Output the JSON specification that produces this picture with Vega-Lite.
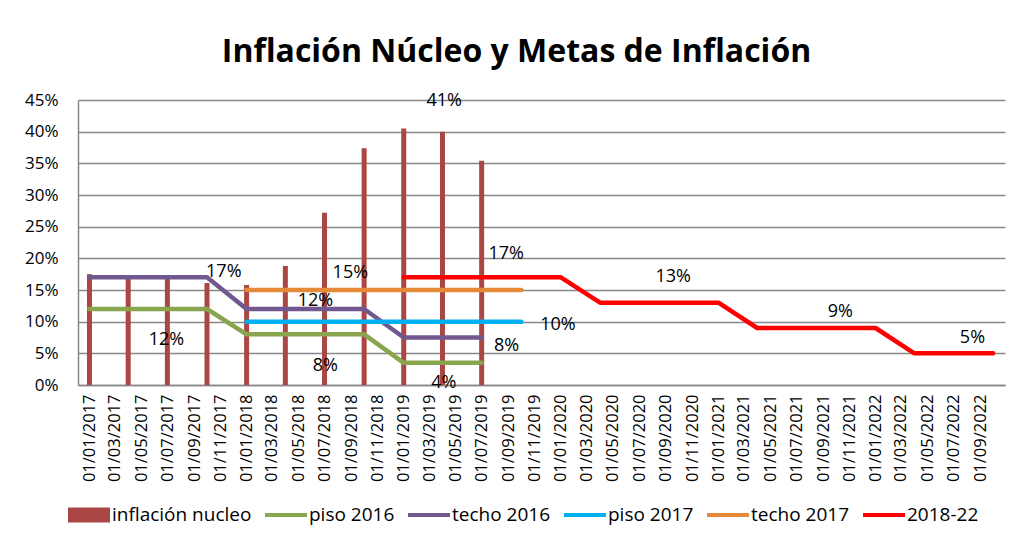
{
  "$schema": "https://vega.github.io/schema/vega-lite/v6.json",
  "autosize": "none",
  "width": 927,
  "height": 285,
  "padding": {"left": 78, "top": 100, "right": 11, "bottom": 157},
  "background": "white",
  "config": {
    "view": {"stroke": null},
    "font": "Open Sans"
  },
  "title": {
    "text": "Inflación Núcleo y Metas de Inflación",
    "font": "Open Sans",
    "fontSize": 32,
    "fontWeight": "bold",
    "color": "black",
    "anchor": "middle",
    "frame": "group",
    "baseline": "alphabetic",
    "dx": -25,
    "offset": -3
  },
  "datasets": {
    "bars": [
      {"date": "2017-01-01", "value": 17.5, "series": "inflación nucleo"},
      {"date": "2017-04-01", "value": 16.9, "series": "inflación nucleo"},
      {"date": "2017-07-01", "value": 16.9, "series": "inflación nucleo"},
      {"date": "2017-10-01", "value": 16.1, "series": "inflación nucleo"},
      {"date": "2018-01-01", "value": 15.8, "series": "inflación nucleo"},
      {"date": "2018-04-01", "value": 18.8, "series": "inflación nucleo"},
      {"date": "2018-07-01", "value": 27.2, "series": "inflación nucleo"},
      {"date": "2018-10-01", "value": 37.4, "series": "inflación nucleo"},
      {"date": "2019-01-01", "value": 40.5, "series": "inflación nucleo"},
      {"date": "2019-04-01", "value": 40.0, "series": "inflación nucleo"},
      {"date": "2019-07-01", "value": 35.4, "series": "inflación nucleo"}
    ],
    "lines": [
      {"date": "2017-01-01", "value": 12, "series": "piso 2016"},
      {"date": "2017-04-01", "value": 12, "series": "piso 2016"},
      {"date": "2017-07-01", "value": 12, "series": "piso 2016"},
      {"date": "2017-10-01", "value": 12, "series": "piso 2016"},
      {"date": "2018-01-01", "value": 8, "series": "piso 2016"},
      {"date": "2018-04-01", "value": 8, "series": "piso 2016"},
      {"date": "2018-07-01", "value": 8, "series": "piso 2016"},
      {"date": "2018-10-01", "value": 8, "series": "piso 2016"},
      {"date": "2019-01-01", "value": 3.5, "series": "piso 2016"},
      {"date": "2019-04-01", "value": 3.5, "series": "piso 2016"},
      {"date": "2019-07-01", "value": 3.5, "series": "piso 2016"},
      {"date": "2017-01-01", "value": 17, "series": "techo 2016"},
      {"date": "2017-04-01", "value": 17, "series": "techo 2016"},
      {"date": "2017-07-01", "value": 17, "series": "techo 2016"},
      {"date": "2017-10-01", "value": 17, "series": "techo 2016"},
      {"date": "2018-01-01", "value": 12, "series": "techo 2016"},
      {"date": "2018-04-01", "value": 12, "series": "techo 2016"},
      {"date": "2018-07-01", "value": 12, "series": "techo 2016"},
      {"date": "2018-10-01", "value": 12, "series": "techo 2016"},
      {"date": "2019-01-01", "value": 7.5, "series": "techo 2016"},
      {"date": "2019-04-01", "value": 7.5, "series": "techo 2016"},
      {"date": "2019-07-01", "value": 7.5, "series": "techo 2016"},
      {"date": "2018-01-01", "value": 10, "series": "piso 2017"},
      {"date": "2018-04-01", "value": 10, "series": "piso 2017"},
      {"date": "2018-07-01", "value": 10, "series": "piso 2017"},
      {"date": "2018-10-01", "value": 10, "series": "piso 2017"},
      {"date": "2019-01-01", "value": 10, "series": "piso 2017"},
      {"date": "2019-04-01", "value": 10, "series": "piso 2017"},
      {"date": "2019-07-01", "value": 10, "series": "piso 2017"},
      {"date": "2019-10-01", "value": 10, "series": "piso 2017"},
      {"date": "2018-01-01", "value": 15, "series": "techo 2017"},
      {"date": "2018-04-01", "value": 15, "series": "techo 2017"},
      {"date": "2018-07-01", "value": 15, "series": "techo 2017"},
      {"date": "2018-10-01", "value": 15, "series": "techo 2017"},
      {"date": "2019-01-01", "value": 15, "series": "techo 2017"},
      {"date": "2019-04-01", "value": 15, "series": "techo 2017"},
      {"date": "2019-07-01", "value": 15, "series": "techo 2017"},
      {"date": "2019-10-01", "value": 15, "series": "techo 2017"},
      {"date": "2019-01-01", "value": 17, "series": "2018-22"},
      {"date": "2019-04-01", "value": 17, "series": "2018-22"},
      {"date": "2019-07-01", "value": 17, "series": "2018-22"},
      {"date": "2019-10-01", "value": 17, "series": "2018-22"},
      {"date": "2020-01-01", "value": 17, "series": "2018-22"},
      {"date": "2020-04-01", "value": 13, "series": "2018-22"},
      {"date": "2020-07-01", "value": 13, "series": "2018-22"},
      {"date": "2020-10-01", "value": 13, "series": "2018-22"},
      {"date": "2021-01-01", "value": 13, "series": "2018-22"},
      {"date": "2021-04-01", "value": 9, "series": "2018-22"},
      {"date": "2021-07-01", "value": 9, "series": "2018-22"},
      {"date": "2021-10-01", "value": 9, "series": "2018-22"},
      {"date": "2022-01-01", "value": 9, "series": "2018-22"},
      {"date": "2022-04-01", "value": 5, "series": "2018-22"},
      {"date": "2022-07-01", "value": 5, "series": "2018-22"},
      {"date": "2022-10-01", "value": 5, "series": "2018-22"}
    ],
    "labels": [
      {"date": "2017-11-09", "value": 17.9, "label": "17%"},
      {"date": "2017-06-29", "value": 7.1, "label": "12%"},
      {"date": "2018-08-30", "value": 17.7, "label": "15%"},
      {"date": "2018-06-10", "value": 13.2, "label": "12%"},
      {"date": "2018-07-03", "value": 3.0, "label": "8%"},
      {"date": "2019-04-05", "value": 44.9, "label": "41%"},
      {"date": "2019-04-04", "value": 0.3, "label": "4%"},
      {"date": "2019-08-27", "value": 20.7, "label": "17%"},
      {"date": "2019-08-28", "value": 6.2, "label": "8%"},
      {"date": "2019-12-25", "value": 9.4, "label": "10%"},
      {"date": "2020-09-18", "value": 17.0, "label": "13%"},
      {"date": "2021-10-11", "value": 11.5, "label": "9%"},
      {"date": "2022-08-14", "value": 7.5, "label": "5%"}
    ]
  },
  "encoding": {
    "x": {
      "field": "date",
      "type": "temporal",
      "scale": {
        "type": "utc",
        "domain": [
          {"year": 2016, "month": 12, "date": 17, "utc": true},
          {"year": 2022, "month": 10, "date": 17, "utc": true}
        ]
      },
      "axis": {
        "title": null,
        "labelExpr": "utcFormat(datum.value, '%d/%m/%Y')",
        "tickCount": {"interval": "month", "step": 2},
        "labelAngle": -90,
        "labelAlign": "right",
        "labelBaseline": "middle",
        "labelFont": "Open Sans",
        "labelFontSize": 16.5,
        "labelColor": "black",
        "labelPadding": 9,
        "labelOverlap": false,
        "labelFlush": false,
        "ticks": false,
        "grid": false,
        "domainColor": "#888888",
        "domainWidth": 1.5
      }
    },
    "y": {
      "field": "value",
      "type": "quantitative",
      "scale": {"domain": [0, 45], "nice": false, "zero": true},
      "axis": {
        "title": null,
        "values": [0, 5, 10, 15, 20, 25, 30, 35, 40, 45],
        "labelExpr": "datum.value + '%'",
        "labelFont": "Open Sans",
        "labelFontSize": 17,
        "labelColor": "black",
        "labelPadding": 20,
        "ticks": false,
        "grid": true,
        "gridColor": "#888888",
        "gridWidth": 1.4,
        "domainColor": "#888888",
        "domainWidth": 1.5
      }
    }
  },
  "layer": [
    {
      "data": {"name": "bars"},
      "mark": {"type": "bar", "width": 5},
      "encoding": {
        "color": {
          "field": "series",
          "type": "nominal",
          "scale": {
            "domain": ["inflación nucleo", "piso 2016", "techo 2016", "piso 2017", "techo 2017", "2018-22"],
            "range": ["#AA4643", "#89A54E", "#71588F", "#00B0F0", "#E68A3A", "#FF0000"]
          },
          "legend": {
            "title": null,
            "orient": "none",
            "legendX": -10,
            "legendY": 394,
            "direction": "horizontal",
            "symbolType": "M-1,-0.36L1,-0.36L1,0.36L-1,0.36Z",
            "symbolSize": 1764,
            "symbolStrokeWidth": 0,
            "symbolOpacity": 1,
            "labelFont": "Open Sans",
            "labelFontSize": 19,
            "labelColor": "black",
            "labelOffset": 2,
            "columnPadding": 13,
            "labelLimit": 400,
            "encode": {
              "symbols": {
                "update": {
                  "shape": {"signal": "datum.value === 'inflación nucleo' ? 'M-1,-0.36L1,-0.36L1,0.36L-1,0.36Z' : 'M-1,-0.1L1,-0.1L1,0.1L-1,0.1Z'"}
                }
              }
            }
          }
        }
      }
    },
    {
      "data": {"name": "lines"},
      "mark": {"type": "line", "strokeWidth": 4.5, "strokeCap": "round", "strokeJoin": "round"},
      "encoding": {
        "color": {"field": "series", "type": "nominal", "legend": null},
        "order": {"field": "date", "type": "temporal"}
      }
    },
    {
      "data": {"name": "labels"},
      "mark": {"type": "text", "font": "Open Sans", "fontSize": 18, "color": "black", "baseline": "middle", "align": "center"},
      "encoding": {
        "text": {"field": "label", "type": "nominal"}
      }
    }
  ]
}
